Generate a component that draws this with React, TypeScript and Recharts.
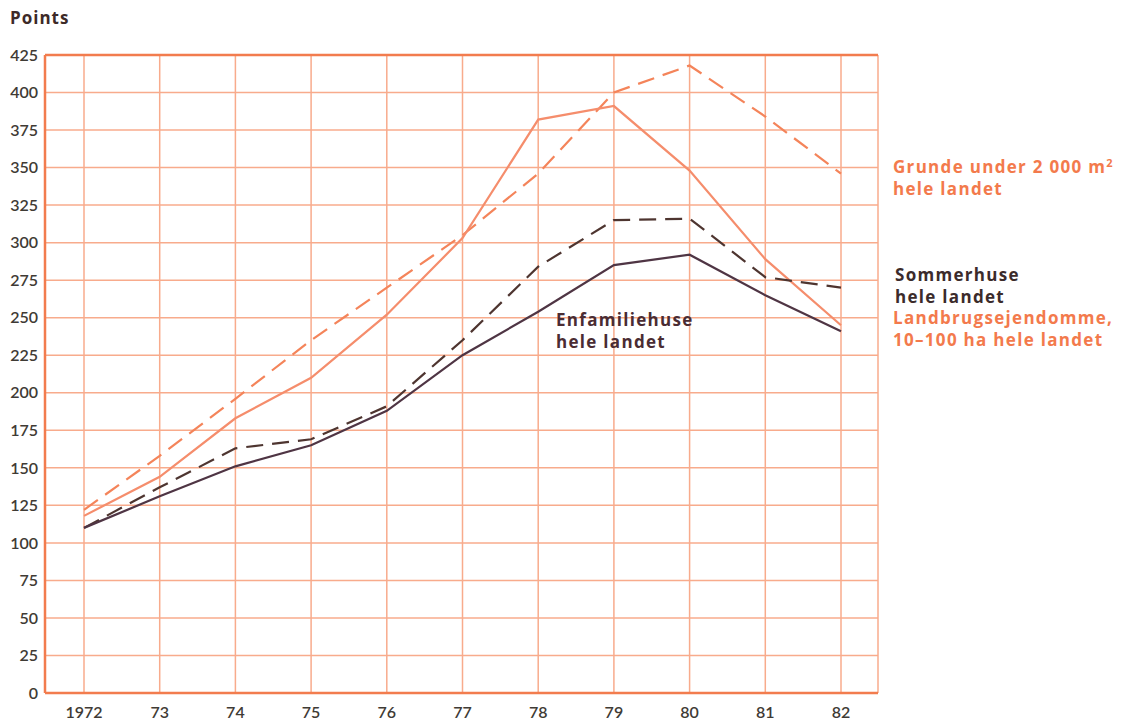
import React from 'react';
import {
  LineChart, Line, XAxis, YAxis, CartesianGrid, ReferenceLine,
} from 'recharts';

const years = ['1972', '73', '74', '75', '76', '77', '78', '79', '80', '81', '82'];
const grunde = [122, 158, 196, 235, 270, 305, 346, 400, 418, 384, 346];
const landbrug = [118, 144, 183, 210, 252, 303, 382, 391, 348, 289, 245];
const sommerhuse = [110, 137, 163, 169, 191, 235, 284, 315, 316, 277, 270];
const enfamilie = [110, 131, 151, 165, 188, 225, 254, 285, 292, 265, 241];
const yTicks = [0, 25, 50, 75, 100, 125, 150, 175, 200, 225, 250, 275, 300, 325, 350, 375, 400, 425];

const data = years.map((year, i) => ({
  year,
  grunde: grunde[i],
  landbrug: landbrug[i],
  sommerhuse: sommerhuse[i],
  enfamilie: enfamilie[i],
}));

const FONT = 'Lato, "Open Sans", sans-serif';
const LABEL_FONT = '"Open Sans", Lato, sans-serif';
const GRID = '#f8ab8c';
const BORDER = '#f27c4e';
const ORANGE = '#f37a4c';
const DARK = '#3b2b2b';
const TICK = '#3f3b35';

const labelStyle: React.CSSProperties = {
  position: 'absolute',
  fontFamily: LABEL_FONT,
  fontWeight: 700,
  fontSize: 17,
  lineHeight: '22px',
  letterSpacing: 1.3,
  whiteSpace: 'nowrap',
};

export default function App() {
  return (
    <div style={{ position: 'absolute', left: 0, top: 0, width: 1126, height: 725, background: '#fff' }}>
      <div style={{ ...labelStyle, left: 10, top: 7, color: '#3d2a28', letterSpacing: 1 }}>Points</div>
      <LineChart
        width={1126}
        height={725}
        data={data}
        margin={{ top: 55, right: 248, bottom: 0, left: 0 }}
      >
        <CartesianGrid stroke={GRID} strokeWidth={1.5} />
        <XAxis
          dataKey="year"
          padding={{ left: 39, right: 37 }}
          height={32}
          tickSize={0}
          tickMargin={14}
          axisLine={{ stroke: BORDER, strokeWidth: 2.5 }}
          tick={{ fill: TICK, fontSize: 16, fontFamily: FONT, fontWeight: 600 }}
        />
        <YAxis
          domain={[0, 425]}
          ticks={yTicks}
          width={45}
          tickSize={0}
          tickMargin={7}
          interval={0}
          axisLine={{ stroke: BORDER, strokeWidth: 2.5 }}
          tick={{ fill: TICK, fontSize: 16, fontFamily: FONT, fontWeight: 600 }}
        />
        <YAxis
          yAxisId="right"
          orientation="right"
          domain={[0, 425]}
          width={0}
          tick={false}
          tickLine={false}
          axisLine={{ stroke: BORDER, strokeWidth: 2.5 }}
        />
        <ReferenceLine y={425} stroke={BORDER} strokeWidth={2.5} />
        <Line
          dataKey="grunde"
          stroke="#f4845a"
          strokeWidth={2.2}
          strokeDasharray="17 9"
          dot={false}
          isAnimationActive={false}
        />
        <Line
          dataKey="landbrug"
          stroke="#f58d6c"
          strokeWidth={2.2}
          dot={false}
          isAnimationActive={false}
        />
        <Line
          dataKey="sommerhuse"
          stroke="#4e3530"
          strokeWidth={2.2}
          strokeDasharray="17 9"
          dot={false}
          isAnimationActive={false}
        />
        <Line
          dataKey="enfamilie"
          stroke="#4f3544"
          strokeWidth={2.2}
          dot={false}
          isAnimationActive={false}
        />
      </LineChart>
      <div style={{ ...labelStyle, left: 893, top: 156, color: ORANGE }}>
        Grunde under 2 000 m<sup style={{ fontSize: 11, verticalAlign: 'top', lineHeight: '14px' }}>2</sup>
        <br />hele landet
      </div>
      <div style={{ ...labelStyle, left: 895, top: 264, color: DARK }}>
        Sommerhuse<br />hele landet
      </div>
      <div style={{ ...labelStyle, left: 893, top: 307, color: ORANGE }}>
        Landbrugsejendomme,<br />10–100 ha hele landet
      </div>
      <div style={{ ...labelStyle, left: 556, top: 309, color: '#4a2c33' }}>
        Enfamiliehuse<br />hele landet
      </div>
    </div>
  );
}
